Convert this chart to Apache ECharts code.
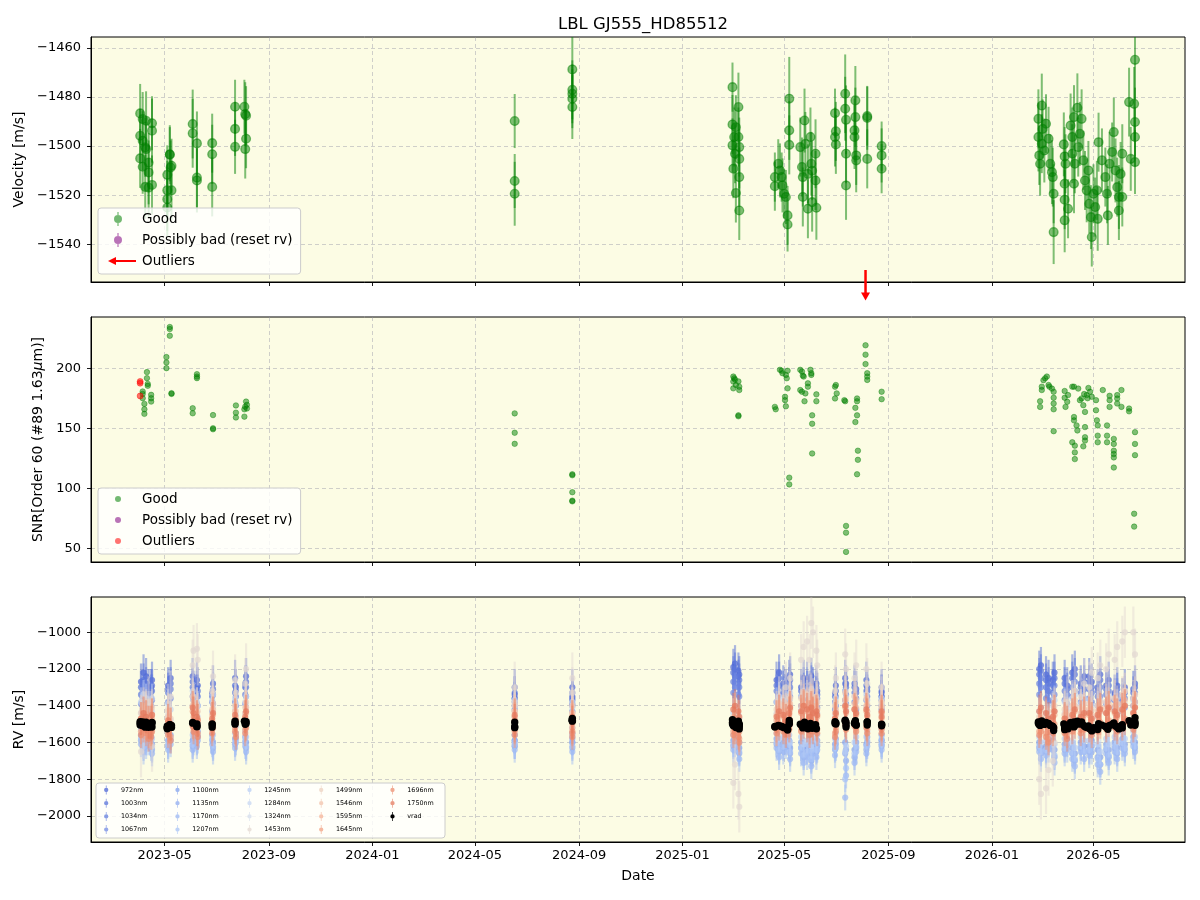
<!DOCTYPE html>
<html><head><meta charset="utf-8">
<script src="https://cdn.jsdelivr.net/npm/echarts@6/dist/echarts.min.js"></script>
<style>html,body{margin:0;padding:0;background:#fff}#c{width:1200px;height:900px}</style>
</head><body><div id="c"></div>
<script>
// ---------------- data ----------------
const chartTitle = 'LBL GJ555_HD85512';
const xTickLabels = ['2023-05','2023-09','2024-01','2024-05','2024-09','2025-01','2025-05','2025-09','2026-01','2026-05'];
const xRange = ['2023-02-03','2026-08-17'];
const velTicks = [-1540,-1520,-1500,-1480,-1460];
const velRange = [-1555.3,-1455.6];
const snrTicks = [50,100,150,200];
const snrRange = [38.9,242.5];
const rvTicks = [-2000,-1800,-1600,-1400,-1200,-1000];
const rvRange = [-2142,-808];

// velocity (Good): [date, m/s, err]
const velPoints = [
 ['2023-04-02',-1486.7,12],['2023-04-02',-1495.8,11],['2023-04-02',-1505.0,12],
 ['2023-04-05',-1489.0,11],['2023-04-05',-1497.8,12],['2023-04-05',-1508.4,11],
 ['2023-04-08',-1500.5,12],['2023-04-08',-1516.6,13],['2023-04-09',-1489.7,12],['2023-04-09',-1501.2,11],
 ['2023-04-12',-1506.7,12],['2023-04-12',-1510.7,13],['2023-04-12',-1516.9,12],
 ['2023-04-16',-1490.7,11],['2023-04-16',-1493.7,13],['2023-04-16',-1515.8,12],
 ['2023-05-04',-1511.7,12],['2023-05-04',-1518.0,12],['2023-05-04',-1521.6,13],['2023-05-04',-1525.0,12],
 ['2023-05-07',-1503.3,11],['2023-05-07',-1503.5,12],['2023-05-08',-1508.7,11],['2023-05-09',-1518.0,12],['2023-05-09',-1508.0,11],
 ['2023-06-03',-1491.0,14],['2023-06-03',-1494.8,14],['2023-06-08',-1498.9,13],['2023-06-08',-1512.8,12],['2023-06-08',-1514.0,13],
 ['2023-06-26',-1498.8,12],['2023-06-26',-1503.3,12],['2023-06-26',-1516.6,12],
 ['2023-07-23',-1484.0,11],['2023-07-23',-1493.0,11],['2023-07-23',-1500.3,11],
 ['2023-08-03',-1484.0,11],['2023-08-04',-1487.0,13],['2023-08-05',-1487.6,12],['2023-08-05',-1497.0,12],['2023-08-04',-1501.2,12],
 ['2024-06-17',-1489.8,11],['2024-06-17',-1514.2,11],['2024-06-17',-1519.4,13],
 ['2024-08-24',-1468.8,14],['2024-08-24',-1477.1,12],['2024-08-24',-1478.7,12],['2024-08-24',-1480.7,12],['2024-08-24',-1484.1,13],
 ['2025-03-01',-1476.0,10],['2025-03-01',-1491.2,12],['2025-03-01',-1499.7,11],['2025-03-02',-1509.2,12],
 ['2025-03-03',-1496.3,12],['2025-03-04',-1503.1,12],['2025-03-05',-1492.3,13],['2025-03-05',-1519.1,12],
 ['2025-03-08',-1484.1,14],['2025-03-08',-1496.3,12],['2025-03-09',-1500.4,12],['2025-03-09',-1505.2,12],['2025-03-09',-1512.6,12],['2025-03-09',-1526.2,12],
 ['2025-04-20',-1512.6,10],['2025-04-20',-1516.3,10],['2025-04-24',-1507.2,10],['2025-04-26',-1509.9,11],['2025-04-28',-1512.6,10],['2025-04-29',-1516.0,11],
 ['2025-05-01',-1519.4,10],['2025-05-03',-1520.7,11],['2025-05-05',-1528.2,12],['2025-05-05',-1531.9,11],['2025-05-07',-1480.7,17],['2025-05-07',-1493.6,12],['2025-05-07',-1499.5,12],
 ['2025-05-20',-1500.4,12],['2025-05-22',-1508.5,12],['2025-05-23',-1512.6,12],['2025-05-23',-1520.7,12],['2025-05-25',-1489.6,13],['2025-05-26',-1499.1,13],
 ['2025-05-29',-1511.3,12],['2025-05-29',-1525.5,12],['2025-06-01',-1496.3,12],['2025-06-02',-1507.2,13],['2025-06-03',-1522.8,12],['2025-06-03',-1510.0,12],
 ['2025-06-07',-1503.1,14],['2025-06-07',-1514.0,12],['2025-06-08',-1525.1,13],
 ['2025-06-30',-1486.6,10],['2025-06-30',-1496.3,12],['2025-07-01',-1499.3,12],['2025-07-01',-1494.0,12],
 ['2025-07-12',-1478.7,16],['2025-07-12',-1484.8,13],['2025-07-13',-1489.3,14],['2025-07-13',-1503.1,12],['2025-07-13',-1516.0,14],
 ['2025-07-24',-1481.4,14],['2025-07-24',-1488.2,12],['2025-07-23',-1493.6,13],['2025-07-23',-1496.3,13],['2025-07-25',-1503.8,12],['2025-07-25',-1505.8,13],
 ['2025-08-07',-1487.8,12],['2025-08-07',-1488.5,13],['2025-08-07',-1505.2,12],
 ['2025-08-24',-1500.0,10],['2025-08-24',-1503.8,11],['2025-08-24',-1509.2,10],
 ['2026-02-25',-1488.9,12],['2026-02-25',-1496.3,14],['2026-02-26',-1503.8,12],['2026-02-27',-1507.2,13],['2026-03-01',-1483.5,13],['2026-03-01',-1499.0,12],
 ['2026-03-02',-1493.0,12],['2026-03-04',-1501.8,13],['2026-03-06',-1490.9,12],['2026-03-09',-1497.0,13],['2026-03-11',-1507.2,12],['2026-03-13',-1510.6,13],
 ['2026-03-14',-1512.6,12],['2026-03-15',-1519.4,12],['2026-03-15',-1535.0,13],
 ['2026-03-27',-1499.3,13],['2026-03-28',-1504.2,12],['2026-03-28',-1515.3,13],['2026-03-29',-1507.2,12],['2026-03-28',-1521.8,12],['2026-03-28',-1530.2,13],
 ['2026-04-01',-1525.5,12],['2026-04-04',-1491.6,13],['2026-04-06',-1496.3,12],['2026-04-06',-1503.1,12],['2026-04-08',-1488.2,13],['2026-04-08',-1515.3,12],
 ['2026-04-09',-1507.2,12],['2026-04-12',-1484.4,14],['2026-04-13',-1500.4,12],['2026-04-15',-1495.0,13],['2026-04-17',-1488.9,12],['2026-04-19',-1505.8,12],
 ['2026-04-21',-1514.0,12],['2026-04-23',-1518.0,13],['2026-04-25',-1509.9,12],['2026-04-26',-1523.5,12],['2026-04-28',-1528.9,13],['2026-04-29',-1537.0,12],
 ['2026-05-01',-1519.4,12],['2026-05-03',-1524.8,12],['2026-05-05',-1518.0,12],['2026-05-06',-1529.6,13],['2026-05-07',-1498.4,12],
 ['2026-05-11',-1505.8,13],['2026-05-15',-1512.6,12],['2026-05-17',-1519.4,12],['2026-05-18',-1528.2,12],['2026-05-20',-1507.2,13],['2026-05-23',-1502.4,12],
 ['2026-05-25',-1494.3,14],['2026-05-27',-1509.9,13],['2026-05-29',-1516.7,12],['2026-05-31',-1520.7,13],['2026-05-31',-1526.2,12],['2026-06-02',-1511.3,13],
 ['2026-06-04',-1503.1,12],['2026-06-04',-1520.7,12],
 ['2026-06-12',-1482.1,14],['2026-06-14',-1505.2,13],['2026-06-18',-1482.8,15],['2026-06-19',-1464.9,16],['2026-06-19',-1490.2,14],['2026-06-19',-1496.3,12],['2026-06-19',-1506.5,13]
];
// velocity outliers (below the plotted range)
const velOutlierDates = ['2025-08-05'];

// SNR (Good): [date, snr]
const snrPoints = [
 ['2023-04-05',180.6],['2023-04-05',178.6],['2023-04-05',175.0],['2023-04-07',170.3],['2023-04-07',165.8],['2023-04-07',162.0],
 ['2023-04-10',196.7],['2023-04-10',191.7],['2023-04-11',186.9],['2023-04-11',185.3],['2023-04-15',177.8],['2023-04-15',175.0],['2023-04-15',172.2],
 ['2023-05-03',209.2],['2023-05-03',204.7],['2023-05-03',200.0],['2023-05-07',234.2],['2023-05-07',232.5],['2023-05-07',226.9],['2023-05-09',179.2],['2023-05-09',178.6],
 ['2023-06-03',166.7],['2023-06-03',162.5],['2023-06-08',195.0],['2023-06-08',193.0],['2023-06-08',191.7],
 ['2023-06-27',161.0],['2023-06-27',150.0],['2023-06-27',149.2],['2023-07-24',169.0],['2023-07-24',163.0],['2023-07-24',159.0],
 ['2023-08-03',165.8],['2023-08-03',159.7],['2023-08-04',168.0],['2023-08-05',172.2],['2023-08-06',169.5],['2023-08-06',166.5],
 ['2024-06-17',162.4],['2024-06-17',146.3],['2024-06-17',137.1],['2024-08-24',111.8],['2024-08-24',111.0],['2024-08-24',96.9],['2024-08-24',89.3],['2024-08-24',89.9],
 ['2025-03-02',193.0],['2025-03-03',191.6],['2025-03-02',188.8],['2025-03-08',189.0],['2025-03-02',183.2],['2025-03-09',184.6],['2025-03-09',181.8],
 ['2025-03-08',160.8],['2025-03-08',160.0],['2025-03-04',190.5],['2025-03-05',186.0],
 ['2025-04-20',167.8],['2025-04-21',165.8],['2025-04-26',198.6],['2025-04-28',197.8],['2025-04-29',195.8],['2025-05-03',194.4],['2025-05-05',197.8],
 ['2025-05-04',191.6],['2025-05-05',183.2],['2025-05-02',176.2],['2025-05-02',173.4],['2025-05-03',168.3],['2025-05-07',109.0],['2025-05-07',103.4],
 ['2025-05-20',198.6],['2025-05-22',197.2],['2025-05-23',193.8],['2025-05-24',193.0],['2025-05-20',181.8],['2025-05-22',180.4],['2025-05-26',179.0],
 ['2025-05-25',172.5],['2025-05-29',187.4],['2025-05-29',184.6],['2025-06-01',198.6],['2025-06-02',195.8],['2025-06-02',194.4],['2025-06-03',160.8],
 ['2025-06-03',153.8],['2025-06-03',129.1],['2025-06-08',178.2],['2025-06-08',172.5],
 ['2025-06-30',184.6],['2025-07-01',186.0],['2025-07-02',179.0],['2025-06-30',174.8],
 ['2025-07-11',173.4],['2025-07-12',172.5],['2025-07-13',68.9],['2025-07-13',63.3],['2025-07-13',47.3],
 ['2025-07-26',174.8],['2025-07-26',172.5],['2025-07-24',167.0],['2025-07-26',160.8],['2025-07-24',155.2],['2025-07-27',131.4],['2025-07-27',123.8],['2025-07-26',111.8],
 ['2025-08-05',219.0],['2025-08-05',211.2],['2025-08-05',203.4],['2025-08-07',195.8],['2025-08-07',193.0],['2025-08-07',190.2],
 ['2025-08-24',180.4],['2025-08-24',174.2],
 ['2026-02-27',172.5],['2026-02-27',167.8],['2026-03-01',184.6],['2026-03-01',181.8],['2026-03-03',190.0],['2026-03-05',191.6],['2026-03-07',193.0],
 ['2026-03-09',186.0],['2026-03-10',184.6],['2026-03-13',183.0],['2026-03-15',180.4],['2026-03-15',175.4],['2026-03-15',170.6],['2026-03-15',165.8],['2026-03-15',147.6],
 ['2026-03-28',181.0],['2026-03-28',175.4],['2026-03-29',167.8],['2026-04-01',177.6],['2026-03-31',172.0],['2026-04-06',184.6],['2026-04-08',184.6],
 ['2026-04-06',138.4],['2026-04-08',159.4],['2026-04-08',156.6],['2026-04-09',135.6],['2026-04-09',130.0],['2026-04-09',124.4],['2026-04-11',152.4],
 ['2026-04-12',148.2],['2026-04-15',173.4],['2026-04-17',174.8],['2026-04-19',169.2],['2026-04-19',135.0],['2026-04-21',163.6],['2026-04-21',151.0],
 ['2026-04-21',142.6],['2026-04-21',139.8],['2026-04-23',177.6],['2026-04-27',180.4],['2026-04-29',176.2],['2026-05-04',173.4],['2026-05-04',165.0],
 ['2026-05-05',156.6],['2026-05-06',152.4],['2026-05-06',143.9],['2026-05-06',138.4],['2026-04-13',183.0],['2026-04-20',178.5],['2026-04-25',183.5],['2026-04-24',175.0],
 ['2026-05-12',181.8],['2026-05-17',152.4],['2026-05-17',143.9],['2026-05-17',138.4],['2026-05-20',177.0],['2026-05-20',173.4],['2026-05-20',167.8],
 ['2026-05-25',141.2],['2026-05-25',137.0],['2026-05-25',131.4],['2026-05-25',128.6],['2026-05-25',125.8],['2026-05-25',117.4],
 ['2026-05-29',177.6],['2026-05-29',174.8],['2026-05-29',170.6],['2026-06-03',181.8],['2026-06-03',167.8],
 ['2026-06-12',166.4],['2026-06-12',164.1],['2026-06-19',146.8],['2026-06-19',137.0],['2026-06-19',127.7],['2026-06-18',79.0],['2026-06-18',68.3]
];
// SNR outliers
const snrOutliers = [['2023-04-02',188.9],['2023-04-02',187.5],['2023-04-02',176.9]];

// per-wavelength RV panel: two exposure sets per epoch group
const rvEpochs = ['2023-04-03','2023-04-09','2023-04-15','2023-05-05','2023-06-04','2023-06-08','2023-06-26','2023-07-23','2023-08-04',
 '2024-06-17','2024-08-24','2025-03-02','2025-03-08','2025-04-22','2025-04-30','2025-05-07','2025-05-21','2025-05-28','2025-06-04','2025-06-09',
 '2025-07-01','2025-07-13','2025-07-25','2025-08-07','2025-08-24','2026-02-26','2026-03-06','2026-03-14','2026-03-28','2026-04-06','2026-04-16',
 '2026-04-26','2026-05-06','2026-05-16','2026-05-26','2026-06-04','2026-06-17'];
const rvEpochsB = ['2023-04-06','2023-04-12','2023-04-16','2023-05-08','2023-06-03','2023-06-09','2023-06-27','2023-07-24','2023-08-05',
 '2024-06-17','2024-08-24','2025-03-04','2025-03-09','2025-04-25','2025-05-03','2025-05-08','2025-05-24','2025-05-31','2025-06-02','2025-06-08',
 '2025-06-30','2025-07-12','2025-07-23','2025-08-06','2025-08-24','2026-02-28','2026-03-09','2026-03-16','2026-03-31','2026-04-09','2026-04-20',
 '2026-04-29','2026-05-09','2026-05-19','2026-05-29','2026-06-07','2026-06-19'];
const wavelengths = ['972nm','1003nm','1034nm','1067nm','1100nm','1135nm','1170nm','1207nm','1245nm','1284nm','1324nm','1453nm','1499nm','1546nm','1595nm','1645nm','1696nm','1750nm'];
const rv972  = [-1270,-1240,-1300,-1290,-1310,-1260,-1330,-1250,-1280,-1340,-1300,-1190,-1210,-1260,-1280,-1250,-1300,-1260,-1290,-1320,-1290,-1280,-1310,-1300,-1330,-1200,-1230,-1260,-1250,-1220,-1280,-1240,-1300,-1290,-1330,-1350,-1310];
const rv1003 = [-1300,-1280,-1320,-1310,-1340,-1300,-1350,-1290,-1300,-1360,-1330,-1220,-1240,-1290,-1300,-1280,-1320,-1300,-1310,-1340,-1320,-1300,-1330,-1320,-1350,-1230,-1260,-1290,-1280,-1250,-1300,-1270,-1320,-1310,-1340,-1370,-1330];
const rv1034 = [-1340,-1320,-1360,-1330,-1370,-1340,-1380,-1330,-1340,-1380,-1360,-1270,-1280,-1320,-1330,-1310,-1350,-1330,-1340,-1360,-1350,-1340,-1360,-1350,-1370,-1280,-1300,-1330,-1320,-1300,-1330,-1310,-1350,-1340,-1370,-1390,-1360];
const rv1067 = [-1390,-1380,-1400,-1380,-1420,-1390,-1430,-1380,-1390,-1420,-1400,-1330,-1340,-1380,-1390,-1370,-1400,-1380,-1390,-1410,-1400,-1390,-1420,-1400,-1420,-1340,-1360,-1380,-1370,-1350,-1380,-1360,-1400,-1390,-1410,-1430,-1400];
const rv1100 = [-1560,-1580,-1570,-1590,-1550,-1570,-1560,-1580,-1570,-1560,-1550,-1590,-1600,-1580,-1600,-1590,-1600,-1620,-1610,-1590,-1580,-1640,-1600,-1570,-1560,-1600,-1620,-1590,-1610,-1630,-1600,-1620,-1640,-1610,-1600,-1580,-1570];
const rv1135 = [-1590,-1600,-1610,-1620,-1580,-1600,-1590,-1610,-1600,-1590,-1580,-1620,-1630,-1610,-1630,-1620,-1630,-1650,-1640,-1620,-1610,-1700,-1630,-1600,-1590,-1630,-1650,-1620,-1640,-1660,-1630,-1650,-1680,-1640,-1630,-1610,-1600];
const rv1170 = [-1610,-1620,-1630,-1640,-1600,-1620,-1610,-1630,-1620,-1620,-1600,-1640,-1650,-1630,-1650,-1640,-1660,-1680,-1660,-1640,-1630,-1780,-1650,-1620,-1610,-1650,-1670,-1640,-1660,-1690,-1650,-1670,-1720,-1660,-1650,-1630,-1620];
const rv1207 = [-1580,-1600,-1600,-1610,-1570,-1590,-1580,-1600,-1590,-1600,-1570,-1610,-1620,-1600,-1620,-1610,-1630,-1650,-1640,-1610,-1600,-1740,-1620,-1590,-1580,-1620,-1640,-1610,-1630,-1660,-1620,-1640,-1690,-1630,-1620,-1600,-1590];
const rv1245 = [-1530,-1550,-1540,-1560,-1520,-1540,-1530,-1550,-1540,-1530,-1520,-1560,-1570,-1550,-1570,-1560,-1570,-1590,-1580,-1560,-1550,-1620,-1570,-1540,-1530,-1570,-1590,-1560,-1580,-1600,-1570,-1590,-1610,-1580,-1570,-1550,-1540];
const rv1284 = [-1380,-1360,-1400,-1390,-1350,-1380,-1370,-1360,-1380,-1400,-1380,-1440,-1450,-1380,-1370,-1360,-1350,-1340,-1370,-1380,-1360,-1350,-1380,-1370,-1390,-1430,-1440,-1400,-1380,-1360,-1390,-1370,-1400,-1380,-1360,-1350,-1370];
const rv1324 = [-1440,-1430,-1460,-1450,-1420,-1440,-1440,-1420,-1440,-1460,-1440,-1500,-1510,-1440,-1430,-1420,-1420,-1410,-1430,-1440,-1430,-1420,-1440,-1430,-1450,-1490,-1500,-1460,-1440,-1420,-1450,-1430,-1460,-1440,-1420,-1410,-1430];
const rv1453 = [-1650,-1450,-1500,-1420,-1100,-1090,-1320,-1260,-1280,-1300,-1250,-1820,-1880,-1480,-1400,-1350,-1150,-1050,-1000,-1180,-1250,-1200,-1180,-1280,-1300,-1800,-1850,-1700,-1450,-1400,-1350,-1300,-1250,-1200,-1150,-1050,-1000];
const rv1499 = [-1440,-1420,-1450,-1430,-1380,-1400,-1420,-1400,-1410,-1430,-1400,-1460,-1470,-1420,-1400,-1390,-1360,-1340,-1350,-1380,-1380,-1360,-1370,-1390,-1400,-1460,-1470,-1430,-1420,-1400,-1410,-1390,-1400,-1380,-1360,-1340,-1360];
const rv1546 = [-1470,-1450,-1480,-1460,-1420,-1440,-1450,-1430,-1440,-1460,-1440,-1480,-1490,-1450,-1430,-1420,-1400,-1390,-1400,-1420,-1420,-1400,-1410,-1430,-1440,-1480,-1490,-1460,-1450,-1430,-1440,-1420,-1430,-1410,-1400,-1390,-1400];
const rv1595 = [-1490,-1480,-1500,-1490,-1460,-1470,-1480,-1470,-1470,-1490,-1470,-1500,-1510,-1480,-1460,-1450,-1440,-1430,-1440,-1460,-1450,-1440,-1450,-1460,-1470,-1500,-1510,-1480,-1470,-1460,-1470,-1450,-1460,-1440,-1440,-1430,-1440];
const rv1645 = [-1540,-1530,-1550,-1540,-1520,-1530,-1530,-1520,-1530,-1540,-1520,-1540,-1550,-1530,-1520,-1510,-1520,-1510,-1520,-1530,-1520,-1510,-1520,-1530,-1530,-1540,-1550,-1530,-1530,-1520,-1530,-1510,-1520,-1510,-1500,-1500,-1510];
const rv1696 = [-1560,-1550,-1570,-1560,-1540,-1550,-1550,-1540,-1550,-1560,-1540,-1560,-1570,-1550,-1540,-1530,-1540,-1530,-1540,-1550,-1540,-1530,-1540,-1550,-1550,-1560,-1570,-1550,-1550,-1540,-1550,-1530,-1540,-1530,-1520,-1520,-1530];
const rv1750 = [-1470,-1460,-1490,-1480,-1440,-1460,-1470,-1450,-1460,-1480,-1460,-1420,-1430,-1460,-1450,-1440,-1430,-1420,-1440,-1450,-1440,-1430,-1440,-1450,-1460,-1430,-1440,-1460,-1470,-1450,-1460,-1440,-1450,-1440,-1430,-1420,-1440];
const rv972b  = [-1220,-1300,-1260,-1250,-1240,-1290,-1280,-1300,-1240,-1300,-1350,-1170,-1230,-1220,-1300,-1230,-1250,-1310,-1240,-1280,-1330,-1250,-1280,-1260,-1300,-1180,-1250,-1220,-1290,-1200,-1240,-1270,-1230,-1260,-1290,-1300,-1280];
const rv1003b = [-1260,-1330,-1290,-1280,-1270,-1320,-1310,-1320,-1270,-1330,-1370,-1200,-1260,-1250,-1320,-1260,-1280,-1330,-1270,-1300,-1350,-1280,-1300,-1290,-1320,-1210,-1280,-1250,-1310,-1230,-1270,-1300,-1260,-1290,-1310,-1330,-1300];
const rv1034b = [-1300,-1360,-1320,-1310,-1300,-1350,-1340,-1350,-1300,-1360,-1390,-1240,-1300,-1290,-1350,-1300,-1320,-1360,-1310,-1330,-1380,-1320,-1330,-1320,-1350,-1250,-1320,-1290,-1340,-1270,-1310,-1330,-1300,-1320,-1340,-1360,-1330];
const rv1067b = [-1350,-1410,-1370,-1360,-1350,-1400,-1390,-1400,-1350,-1400,-1430,-1300,-1350,-1340,-1400,-1350,-1370,-1410,-1360,-1380,-1420,-1370,-1380,-1370,-1400,-1300,-1370,-1340,-1390,-1320,-1360,-1380,-1350,-1370,-1390,-1410,-1380];
const rv1100b = [-1600,-1550,-1610,-1560,-1590,-1540,-1600,-1550,-1600,-1590,-1600,-1560,-1630,-1620,-1570,-1630,-1640,-1580,-1660,-1620,-1610,-1600,-1640,-1610,-1590,-1630,-1580,-1640,-1580,-1660,-1620,-1590,-1680,-1640,-1630,-1610,-1600];
const rv1135b = [-1630,-1580,-1640,-1590,-1620,-1570,-1630,-1580,-1630,-1620,-1630,-1590,-1660,-1650,-1600,-1660,-1680,-1610,-1700,-1650,-1640,-1660,-1680,-1640,-1620,-1660,-1610,-1680,-1610,-1700,-1650,-1620,-1720,-1680,-1660,-1640,-1630];
const rv1170b = [-1650,-1600,-1660,-1610,-1640,-1590,-1650,-1600,-1650,-1640,-1650,-1610,-1690,-1680,-1620,-1690,-1710,-1640,-1730,-1680,-1670,-1900,-1710,-1660,-1640,-1690,-1640,-1710,-1640,-1730,-1690,-1650,-1760,-1710,-1690,-1660,-1650];
const rv1207b = [-1620,-1570,-1630,-1580,-1610,-1560,-1620,-1570,-1620,-1610,-1620,-1580,-1650,-1640,-1590,-1650,-1670,-1610,-1690,-1640,-1630,-1800,-1660,-1620,-1610,-1650,-1600,-1670,-1600,-1690,-1650,-1610,-1720,-1670,-1650,-1630,-1620];
const rv1245b = [-1570,-1510,-1580,-1520,-1560,-1500,-1560,-1510,-1570,-1560,-1560,-1530,-1600,-1580,-1530,-1600,-1610,-1550,-1620,-1590,-1580,-1650,-1600,-1570,-1560,-1600,-1550,-1610,-1540,-1630,-1590,-1560,-1650,-1610,-1600,-1580,-1570];
const rv1284b = [-1340,-1400,-1360,-1420,-1320,-1400,-1340,-1390,-1350,-1370,-1410,-1400,-1470,-1350,-1400,-1330,-1320,-1370,-1310,-1350,-1390,-1320,-1350,-1340,-1360,-1410,-1470,-1370,-1410,-1340,-1360,-1400,-1370,-1350,-1390,-1320,-1340];
const rv1324b = [-1410,-1460,-1430,-1480,-1400,-1460,-1410,-1450,-1410,-1430,-1470,-1470,-1530,-1410,-1460,-1400,-1390,-1440,-1380,-1420,-1450,-1390,-1420,-1410,-1430,-1470,-1520,-1430,-1470,-1400,-1430,-1460,-1430,-1410,-1440,-1390,-1400];
const rv1453b = [-1550,-1380,-1620,-1350,-1180,-1150,-1240,-1330,-1200,-1380,-1330,-1720,-1950,-1380,-1300,-1250,-1080,-1150,-950,-1100,-1320,-1120,-1250,-1200,-1380,-1880,-1750,-1600,-1380,-1320,-1280,-1220,-1180,-1120,-1080,-1000,-1120];
const rv1499b = [-1400,-1460,-1410,-1470,-1350,-1430,-1390,-1430,-1380,-1400,-1440,-1430,-1500,-1390,-1430,-1360,-1330,-1370,-1320,-1360,-1400,-1330,-1350,-1360,-1380,-1430,-1500,-1400,-1450,-1370,-1390,-1420,-1380,-1360,-1390,-1320,-1340];
const rv1546b = [-1440,-1490,-1450,-1500,-1400,-1470,-1420,-1460,-1410,-1430,-1470,-1460,-1520,-1420,-1460,-1390,-1370,-1420,-1370,-1400,-1440,-1370,-1390,-1400,-1410,-1460,-1520,-1430,-1480,-1400,-1420,-1450,-1410,-1390,-1420,-1370,-1380];
const rv1595b = [-1460,-1510,-1470,-1520,-1430,-1500,-1450,-1500,-1440,-1460,-1500,-1480,-1540,-1450,-1490,-1420,-1400,-1460,-1410,-1430,-1470,-1410,-1420,-1430,-1440,-1480,-1540,-1450,-1500,-1430,-1450,-1480,-1430,-1420,-1460,-1400,-1410];
const rv1645b = [-1510,-1560,-1520,-1570,-1490,-1550,-1500,-1550,-1500,-1510,-1550,-1520,-1580,-1500,-1540,-1480,-1490,-1540,-1480,-1500,-1550,-1480,-1490,-1500,-1500,-1520,-1580,-1500,-1560,-1490,-1510,-1540,-1490,-1480,-1520,-1470,-1480];
const rv1696b = [-1530,-1580,-1540,-1590,-1510,-1570,-1520,-1570,-1520,-1530,-1570,-1540,-1600,-1520,-1560,-1500,-1510,-1560,-1500,-1520,-1570,-1500,-1510,-1520,-1520,-1540,-1600,-1520,-1580,-1510,-1530,-1560,-1510,-1500,-1540,-1490,-1500];
const rv1750b = [-1440,-1490,-1450,-1500,-1410,-1480,-1440,-1480,-1430,-1450,-1490,-1400,-1460,-1430,-1480,-1410,-1400,-1460,-1410,-1430,-1470,-1400,-1420,-1420,-1430,-1410,-1470,-1430,-1490,-1420,-1440,-1470,-1420,-1410,-1450,-1400,-1410];
const rvErr = [100,90,90,80,70,70,70,70,70,80,90,140,100,90,80,70,70,90];
const rvSetA = [rv972,rv1003,rv1034,rv1067,rv1100,rv1135,rv1170,rv1207,rv1245,rv1284,rv1324,rv1453,rv1499,rv1546,rv1595,rv1645,rv1696,rv1750];
const rvSetB = [rv972b,rv1003b,rv1034b,rv1067b,rv1100b,rv1135b,rv1170b,rv1207b,rv1245b,rv1284b,rv1324b,rv1453b,rv1499b,rv1546b,rv1595b,rv1645b,rv1696b,rv1750b];

// ---------------- styles ----------------
const FONT = 'DejaVu Sans';
const wlColors = ['#4a63d6','#5670da','#627dde','#7189e3','#80a0ec','#8daaef','#9bb7f3','#a8c3f6','#b8cdf4','#c5d5f1','#d3dcec','#e3d8d2','#ecd0bf','#f2c2aa','#f4b296','#f2a082','#ec8c6e','#e4785c'];
const GREEN = '#008000';
const t = s => Date.parse(s + 'T00:00:00Z');
const xTickVals = xTickLabels.map(s => t(s + '-01'));
const minus = v => String(v).replace('-', '\u2212');
const gridLine = {show: true, lineStyle: {type: [4, 3], color: 'rgba(150,150,165,0.55)', width: 0.8}};
const TICK_FS = 13, LABEL_FS = 14;

function xAxis(gi) {
  return {
    type: 'value', gridIndex: gi, min: t(xRange[0]), max: t(xRange[1]),
    axisLine: {show: true, lineStyle: {color: '#000', width: 1}},
    axisTick: {show: true, customValues: xTickVals, length: 4, lineStyle: {color: '#000', width: 0.9}},
    axisLabel: {show: gi === 2, customValues: xTickVals, margin: 7, fontFamily: FONT, fontSize: TICK_FS, color: '#000',
      formatter: v => { const d = new Date(v); return d.getUTCFullYear() + '-' + String(d.getUTCMonth() + 1).padStart(2, '0'); }},
    splitLine: gridLine,
    name: gi === 2 ? 'Date' : '', nameLocation: 'middle', nameGap: 27,
    nameTextStyle: {fontFamily: FONT, fontSize: LABEL_FS, color: '#000'}
  };
}
function yAxis(gi, range, ticks, name, gap, rich) {
  return {
    type: 'value', gridIndex: gi, min: range[0], max: range[1],
    axisLine: {show: true, lineStyle: {color: '#000', width: 1}},
    axisTick: {show: true, customValues: ticks, length: 4, lineStyle: {color: '#000', width: 0.9}},
    axisLabel: {customValues: ticks, margin: 10, fontFamily: FONT, fontSize: TICK_FS, color: '#000', formatter: minus},
    splitLine: gridLine,
    name, nameLocation: 'middle', nameGap: gap,
    nameTextStyle: {fontFamily: FONT, fontSize: LABEL_FS, color: '#000', rich: rich || {}}
  };
}
function errSeries(name, gi, data, color, o) {
  return {
    type: 'custom', name, xAxisIndex: gi, yAxisIndex: gi, clip: true, z: o.z || 2,
    itemStyle: {color}, encode: {x: 0, y: 1}, data,
    renderItem: (params, api) => {
      const x = api.value(0), y = api.value(1), e = api.value(2);
      const c = api.coord([x, y]), c1 = api.coord([x, y + e]), c2 = api.coord([x, y - e]);
      return {type: 'group', children: [
        {type: 'line', shape: {x1: c[0], y1: c1[1], x2: c[0], y2: c2[1]}, style: {stroke: color, lineWidth: o.lw, opacity: o.lineOp}},
        {type: 'circle', shape: {cx: c[0], cy: c[1], r: o.r}, style: {fill: color, stroke: o.sw ? color : null, lineWidth: o.sw || 0, opacity: o.op}}
      ]};
    }
  };
}

// legend icons
const ICON_EB = 'path://M0,0 M30,14 M10.4,0 L11.6,0 L11.6,14 L10.4,14 Z M7,7 A4,4 0 1,1 15,7 A4,4 0 1,1 7,7 Z';
const ICON_DOT = 'path://M0,0 M30,14 M8,7 A3,3 0 1,1 14,7 A3,3 0 1,1 8,7 Z';
const ICON_ARROW = 'path://M0,0 M30,14 M1,7 L9,3 L9,6 L29,6 L29,8 L9,8 L9,11 Z';
const ICON_SMALL = 'path://M0,0 M15,10 M4.6,0 L5.4,0 L5.4,10 L4.6,10 Z M2.6,5 A2.4,2.4 0 1,1 7.4,5 A2.4,2.4 0 1,1 2.6,5 Z';

const series = [];
series.push(errSeries('Good', 0, velPoints.map(p => [t(p[0]), p[1], p[2]]), GREEN, {r: 4.4, sw: 1.3, op: 0.5, lw: 2, lineOp: 0.5}));
series.push({type: 'custom', name: 'Possibly bad (reset rv)', xAxisIndex: 0, yAxisIndex: 0, itemStyle: {color: 'purple'}, data: [], renderItem: () => null});
series.push({
  type: 'custom', name: 'Outliers', xAxisIndex: 0, yAxisIndex: 0, clip: false, z: 5, itemStyle: {color: 'red'},
  data: velOutlierDates.map(d => [t(d)]), encode: {x: 0},
  renderItem: (params, api) => {
    const c = api.coord([api.value(0), velRange[0]]);
    const x = c[0], yb = c[1];
    return {type: 'group', children: [
      {type: 'line', shape: {x1: x, y1: yb - 12, x2: x, y2: yb + 12}, style: {stroke: 'red', lineWidth: 2.5}},
      {type: 'polygon', shape: {points: [[x - 4.5, yb + 10.5], [x + 4.5, yb + 10.5], [x, yb + 18.5]]}, style: {fill: 'red'}}
    ]};
  }
});
series.push({type: 'scatter', name: 'Good', xAxisIndex: 1, yAxisIndex: 1, symbolSize: 5.5,
  itemStyle: {color: GREEN, opacity: 0.5, borderColor: GREEN, borderWidth: 0.8},
  data: snrPoints.map(p => [t(p[0]), p[1]])});
series.push({type: 'scatter', name: 'Possibly bad (reset rv)', xAxisIndex: 1, yAxisIndex: 1, symbolSize: 5, itemStyle: {color: 'purple', opacity: 0.5}, data: []});
series.push({type: 'scatter', name: 'Outliers', xAxisIndex: 1, yAxisIndex: 1, symbolSize: 6,
  itemStyle: {color: 'red', opacity: 0.55, borderColor: 'red', borderWidth: 0.8},
  data: snrOutliers.map(p => [t(p[0]), p[1]])});
wavelengths.forEach((w, i) => {
  const data = rvEpochs.map((d, k) => [t(d), rvSetA[i][k], rvErr[i]])
    .concat(rvEpochsB.map((d, k) => [t(d), rvSetB[i][k], rvErr[i]]));
  series.push(errSeries(w, 2, data, wlColors[i], {r: 3.1, sw: 0, op: 0.7, lw: 2.2, lineOp: 0.45}));
});
series.push(errSeries('vrad', 2, velPoints.map(p => [t(p[0]), p[1], p[2]]), '#000', {r: 3.7, sw: 0, op: 1, lw: 1.2, lineOp: 1, z: 3}));

const topLegendCommon = {
  orient: 'vertical', itemWidth: 30, itemHeight: 14, itemGap: 7, padding: [4, 8, 6, 9],
  backgroundColor: 'rgba(255,255,255,0.8)', borderColor: '#cccccc', borderWidth: 1, borderRadius: 3,
  textStyle: {fontFamily: FONT, fontSize: 13.5, color: '#000', lineHeight: 14}, selectedMode: false
};
const legends = [
  Object.assign({left: 98, top: 208, data: [
    {name: 'Good', icon: ICON_EB, itemStyle: {color: 'rgba(0,128,0,0.55)'}},
    {name: 'Possibly bad (reset rv)', icon: ICON_EB, itemStyle: {color: 'rgba(128,0,128,0.55)'}},
    {name: 'Outliers', icon: ICON_ARROW, itemStyle: {color: '#ff0000'}}
  ]}, topLegendCommon),
  Object.assign({left: 98, top: 488, data: [
    {name: 'Good', icon: ICON_DOT, itemStyle: {color: 'rgba(0,128,0,0.55)'}},
    {name: 'Possibly bad (reset rv)', icon: ICON_DOT, itemStyle: {color: 'rgba(128,0,128,0.55)'}},
    {name: 'Outliers', icon: ICON_DOT, itemStyle: {color: 'rgba(255,0,0,0.55)'}}
  ]}, topLegendCommon)
];
const bottomNames = wavelengths.concat(['vrad']);
const colLefts = [101.7, 173, 245, 316.7, 388];
for (let c = 0; c < 5; c++) {
  const names = bottomNames.slice(c * 4, c * 4 + 4);
  legends.push({
    orient: 'vertical', left: colLefts[c], top: 785.5, padding: 0, itemWidth: 15, itemHeight: 9, itemGap: 4.2,
    selectedMode: false, textStyle: {fontFamily: FONT, fontSize: 6.4, color: '#000', lineHeight: 9},
    data: names.map(n => ({name: n, icon: ICON_SMALL, itemStyle: {color: n === 'vrad' ? '#000' : wlColors[wavelengths.indexOf(n)], opacity: n === 'vrad' ? 1 : 0.75}}))
  });
}

const gridCommon = {left: 91, right: 15, height: 245, show: true, backgroundColor: '#fcfce4', borderColor: '#000', borderWidth: 1};
const option = {
  animation: false,
  backgroundColor: '#ffffff',
  title: {text: chartTitle, left: 638, top: 11, textAlign: 'center', textStyle: {fontFamily: FONT, fontSize: 16.5, fontWeight: 'normal', color: '#000'}},
  grid: [Object.assign({top: 37}, gridCommon), Object.assign({top: 317}, gridCommon), Object.assign({top: 597}, gridCommon)],
  xAxis: [xAxis(0), xAxis(1), xAxis(2)],
  yAxis: [
    yAxis(0, velRange, velTicks, 'Velocity [m/s]', 62),
    yAxis(1, snrRange, snrTicks, 'SNR[Order 60 (#89 1.63{i|\u03bc}m)]', 43, {i: {fontStyle: 'italic', fontFamily: FONT, fontSize: LABEL_FS, color: '#000'}}),
    yAxis(2, rvRange, rvTicks, 'RV [m/s]', 62)
  ],
  legend: legends,
  graphic: [{type: 'rect', z: 3, shape: {x: 96, y: 783, width: 349, height: 55, r: 3},
    style: {fill: 'rgba(255,255,255,0.8)', stroke: '#cccccc', lineWidth: 1}}],
  series
};
const chart = echarts.init(document.getElementById('c'), null, {renderer: 'canvas'});
chart.setOption(option);
</script></body></html>
